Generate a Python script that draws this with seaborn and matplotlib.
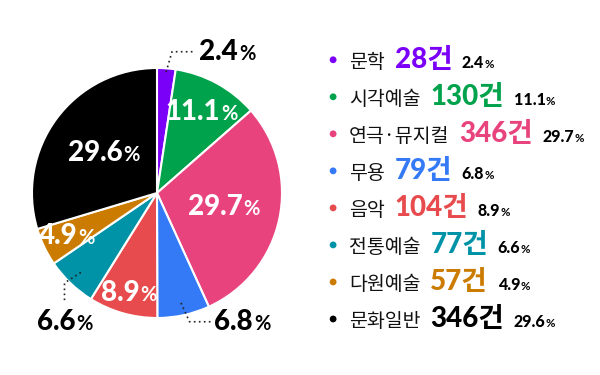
import numpy as np
import pandas as pd
import seaborn as sns
import matplotlib.pyplot as plt
from matplotlib.offsetbox import TextArea, HPacker, AnnotationBbox

genres = ["문학", "시각예술", "연극·뮤지컬", "무용", "음악", "전통예술", "다원예술", "문화일반"]
counts = [28, 130, 346, 79, 104, 77, 57, 346]
shares = [2.4, 11.1, 29.7, 6.8, 8.9, 6.6, 4.9, 29.6]
colors = ["#7b00f7", "#00a24c", "#e8437d", "#3479f6", "#e84b4d", "#0093a8", "#cb7b00", "#000000"]

# inside labels: radius fraction; outside labels use a dotted leader
label_r = [None, 0.74, 0.55, None, 0.83, None, 0.8, 0.53]
outside = {
    0: dict(r=0.97, elbow=(0.12, 1.13), end=(0.31, 1.13), text=(0.34, 1.13), box=(0, 0.5)),
    3: dict(r=0.9, elbow=(0.26, -1.03), end=(0.44, -1.03), text=(0.46, -1.03), box=(0, 0.5)),
    5: dict(r=0.88, elbow=(-0.74, -0.72), end=(-0.74, -0.87), text=(-0.74, -1.03), box=(0.5, 0.5)),
}

sns.set_theme(style="white")
plt.rcParams["font.family"] = ["Noto Sans CJK KR", "DejaVu Sans"]
num_font = ["Lato", "Noto Sans CJK KR", "DejaVu Sans"]


def pct_box(value, size, color, sep=0.5):
    return HPacker(children=[
        TextArea(f"{value}", textprops=dict(size=size, family=num_font, weight="black", color=color)),
        TextArea("%", textprops=dict(size=size * 0.72, family=num_font, weight="bold", color=color)),
    ], sep=sep, pad=0, align="baseline")


fig = plt.figure(figsize=(6, 3.75), dpi=100)
ax = fig.add_axes([0.0533, 0.152, 0.4167, 0.6667])
wedges, _ = ax.pie(counts, colors=colors, startangle=90, counterclock=False,
                   wedgeprops=dict(edgecolor="white", linewidth=1.5))
ax.set_xlim(-1, 1)
ax.set_ylim(-1, 1)
ax.set_aspect("equal")
ax.axis("off")

for i, w in enumerate(wedges):
    mid = np.deg2rad((w.theta1 + w.theta2) / 2)
    if label_r[i] is not None:
        xy = (label_r[i] * np.cos(mid), label_r[i] * np.sin(mid))
        ab = AnnotationBbox(pct_box(shares[i], 20, "white"), xy, frameon=False,
                            box_alignment=(0.5, 0.5), pad=0, annotation_clip=False)
        ax.add_artist(ab)
    else:
        o = outside[i]
        start = (o["r"] * np.cos(mid), o["r"] * np.sin(mid))
        xs = [start[0], o["elbow"][0], o["end"][0]]
        ys = [start[1], o["elbow"][1], o["end"][1]]
        ax.plot(xs, ys, color="#222222", linestyle=(0, (1, 2)), linewidth=1.2, clip_on=False)
        ab = AnnotationBbox(pct_box(shares[i], 20, "black"), o["text"], frameon=False,
                            box_alignment=o["box"], pad=0, annotation_clip=False)
        ax.add_artist(ab)

# legend list on the right
lax = fig.add_axes([0.53, 0.1, 0.45, 0.79])
df = pd.DataFrame({"genre": genres, "row": np.arange(len(genres)), "x": 0.056})
sns.scatterplot(data=df, x="x", y="row", hue="genre", palette=colors, s=24,
                edgecolor="none", legend=False, ax=lax)
lax.set_xlim(0, 1)
lax.set_ylim(len(genres) - 0.5, -0.5)
lax.axis("off")

for i, g in enumerate(genres):
    row = HPacker(children=[
        TextArea(g, textprops=dict(size=14, weight="medium", color="#111111")),
        TextArea(f"{counts[i]}건", textprops=dict(size=20, family=num_font, weight="black",
                                                 color=colors[i])),
        pct_box(shares[i], 11.5, "black", sep=0),
    ], sep=7, pad=0, align="baseline")
    ab = AnnotationBbox(row, (0.115, i), frameon=False, box_alignment=(0, 0.5),
                        pad=0, annotation_clip=False)
    lax.add_artist(ab)

fig.savefig("out.png", dpi=100, facecolor="white")
